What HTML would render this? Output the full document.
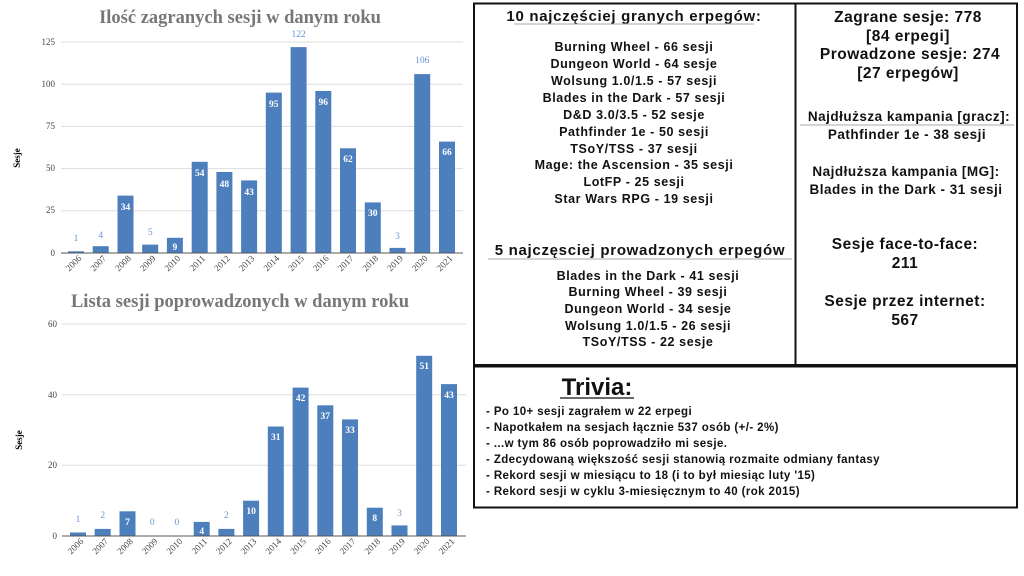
<!DOCTYPE html>
<html><head><meta charset="utf-8"><style>
html,body{margin:0;padding:0;background:#fff;}
svg{display:block;}
.t{font-family:"Liberation Serif",serif;font-weight:bold;fill:#777;font-size:18.5px;text-anchor:middle;}
.ax{font-family:"Liberation Serif",serif;font-size:9px;fill:#444;text-anchor:end;}
.yr{font-family:"Liberation Serif",serif;font-size:9px;fill:#444;text-anchor:end;}
.in{font-family:"Liberation Serif",serif;font-size:9.5px;fill:#fff;font-weight:bold;text-anchor:middle;}
.out{font-family:"Liberation Serif",serif;font-size:9.5px;fill:#6a95d4;text-anchor:middle;}
.yl{font-family:"Liberation Serif",serif;font-size:9px;font-weight:bold;fill:#000;text-anchor:middle;}
.g{stroke:#ddd;stroke-width:1;}
.b{fill:#4e7fbd;}
.p{font-family:"Liberation Sans",sans-serif;font-weight:bold;fill:#111;text-anchor:middle;font-size:12.5px;letter-spacing:0.6px;}
.h{font-family:"Liberation Sans",sans-serif;font-weight:bold;fill:#111;text-anchor:middle;font-size:15px;letter-spacing:0.7px;}
.r{font-family:"Liberation Sans",sans-serif;font-weight:bold;fill:#111;text-anchor:middle;font-size:15.5px;letter-spacing:0.5px;}
.r2{font-family:"Liberation Sans",sans-serif;font-weight:bold;fill:#111;text-anchor:middle;font-size:13.5px;letter-spacing:0.5px;}
.tv{font-family:"Liberation Sans",sans-serif;font-weight:bold;fill:#111;font-size:11.5px;letter-spacing:0.4px;}
</style></head><body>
<svg width="1024" height="576" viewBox="0 0 1024 576" xmlns="http://www.w3.org/2000/svg">
<text class="t" x="240" y="23">Ilość zagranych sesji w danym roku</text>
<line class="g" x1="61" x2="463" y1="42" y2="42"/>
<line class="g" x1="61" x2="463" y1="84.2" y2="84.2"/>
<line class="g" x1="61" x2="463" y1="126.4" y2="126.4"/>
<line class="g" x1="61" x2="463" y1="168.6" y2="168.6"/>
<line class="g" x1="61" x2="463" y1="210.8" y2="210.8"/>
<text class="ax" x="55" y="45">125</text>
<text class="ax" x="55" y="87">100</text>
<text class="ax" x="55" y="129">75</text>
<text class="ax" x="55" y="171">50</text>
<text class="ax" x="55" y="213">25</text>
<text class="ax" x="55" y="256">0</text>
<text class="yl" transform="translate(20,158) rotate(-90)">Sesje</text>
<rect class="b" x="68" y="251.3" width="16" height="1.7"/>
<rect class="b" x="92.7" y="246.2" width="16" height="6.8"/>
<rect class="b" x="117.5" y="195.6" width="16" height="57.4"/>
<rect class="b" x="142.2" y="244.6" width="16" height="8.4"/>
<rect class="b" x="166.9" y="237.8" width="16" height="15.2"/>
<rect class="b" x="191.7" y="161.8" width="16" height="91.2"/>
<rect class="b" x="216.4" y="172" width="16" height="81"/>
<rect class="b" x="241.1" y="180.4" width="16" height="72.6"/>
<rect class="b" x="265.8" y="92.6" width="16" height="160.4"/>
<rect class="b" x="290.6" y="47.1" width="16" height="205.9"/>
<rect class="b" x="315.3" y="91" width="16" height="162"/>
<rect class="b" x="340" y="148.3" width="16" height="104.7"/>
<rect class="b" x="364.8" y="202.4" width="16" height="50.6"/>
<rect class="b" x="389.5" y="247.9" width="16" height="5.1"/>
<rect class="b" x="414.2" y="74.1" width="16" height="178.9"/>
<rect class="b" x="439" y="141.6" width="16" height="111.4"/>
<line x1="61" x2="463" y1="253" y2="253" stroke="#555" stroke-width="1"/>
<text class="out" x="76" y="241">1</text>
<text class="out" x="100.7" y="238">4</text>
<text class="in" x="125.5" y="210">34</text>
<text class="out" x="150.2" y="235">5</text>
<text class="in" x="174.9" y="250">9</text>
<text class="in" x="199.7" y="176">54</text>
<text class="in" x="224.4" y="187">48</text>
<text class="in" x="249.1" y="195">43</text>
<text class="in" x="273.8" y="107">95</text>
<text class="out" x="298.6" y="37">122</text>
<text class="in" x="323.3" y="105">96</text>
<text class="in" x="348" y="162">62</text>
<text class="in" x="372.8" y="216">30</text>
<text class="out" x="397.5" y="239">3</text>
<text class="out" x="422.2" y="63">106</text>
<text class="in" x="447" y="155">66</text>
<g class="yr">
<text transform="translate(82,259) rotate(-45)">2006</text>
<text transform="translate(106.7,259) rotate(-45)">2007</text>
<text transform="translate(131.5,259) rotate(-45)">2008</text>
<text transform="translate(156.2,259) rotate(-45)">2009</text>
<text transform="translate(180.9,259) rotate(-45)">2010</text>
<text transform="translate(205.7,259) rotate(-45)">2011</text>
<text transform="translate(230.4,259) rotate(-45)">2012</text>
<text transform="translate(255.1,259) rotate(-45)">2013</text>
<text transform="translate(279.8,259) rotate(-45)">2014</text>
<text transform="translate(304.6,259) rotate(-45)">2015</text>
<text transform="translate(329.3,259) rotate(-45)">2016</text>
<text transform="translate(354,259) rotate(-45)">2017</text>
<text transform="translate(378.8,259) rotate(-45)">2018</text>
<text transform="translate(403.5,259) rotate(-45)">2019</text>
<text transform="translate(428.2,259) rotate(-45)">2020</text>
<text transform="translate(453,259) rotate(-45)">2021</text>
</g>
<text class="t" x="240" y="307">Lista sesji poprowadzonych w danym roku</text>
<line class="g" x1="62" x2="466" y1="324" y2="324"/>
<line class="g" x1="62" x2="466" y1="394.7" y2="394.7"/>
<line class="g" x1="62" x2="466" y1="465.3" y2="465.3"/>
<text class="ax" x="57" y="327">60</text>
<text class="ax" x="57" y="398">40</text>
<text class="ax" x="57" y="468">20</text>
<text class="ax" x="57" y="539">0</text>
<text class="yl" transform="translate(22,440) rotate(-90)">Sesje</text>
<rect class="b" x="70" y="532.5" width="16" height="3.5"/>
<rect class="b" x="94.7" y="528.9" width="16" height="7.1"/>
<rect class="b" x="119.5" y="511.3" width="16" height="24.7"/>
<rect class="b" x="193.7" y="521.9" width="16" height="14.1"/>
<rect class="b" x="218.4" y="528.9" width="16" height="7.1"/>
<rect class="b" x="243.1" y="500.7" width="16" height="35.3"/>
<rect class="b" x="267.8" y="426.5" width="16" height="109.5"/>
<rect class="b" x="292.6" y="387.6" width="16" height="148.4"/>
<rect class="b" x="317.3" y="405.3" width="16" height="130.7"/>
<rect class="b" x="342" y="419.4" width="16" height="116.6"/>
<rect class="b" x="366.8" y="507.7" width="16" height="28.3"/>
<rect class="b" x="391.5" y="525.4" width="16" height="10.6"/>
<rect class="b" x="416.2" y="355.8" width="16" height="180.2"/>
<rect class="b" x="441" y="384.1" width="16" height="151.9"/>
<line x1="62" x2="466" y1="536" y2="536" stroke="#555" stroke-width="1"/>
<text class="out" x="78" y="522">1</text>
<text class="out" x="102.7" y="518">2</text>
<text class="in" x="127.5" y="525">7</text>
<text class="out" x="152.2" y="525">0</text>
<text class="out" x="176.9" y="525">0</text>
<text class="in" x="201.7" y="534">4</text>
<text class="out" x="226.4" y="518">2</text>
<text class="in" x="251.1" y="514">10</text>
<text class="in" x="275.8" y="440">31</text>
<text class="in" x="300.6" y="401">42</text>
<text class="in" x="325.3" y="419">37</text>
<text class="in" x="350" y="433">33</text>
<text class="in" x="374.8" y="521">8</text>
<text class="out" x="399.5" y="516">3</text>
<text class="in" x="424.2" y="369">51</text>
<text class="in" x="449" y="398">43</text>
<g class="yr">
<text transform="translate(84,542) rotate(-45)">2006</text>
<text transform="translate(108.7,542) rotate(-45)">2007</text>
<text transform="translate(133.5,542) rotate(-45)">2008</text>
<text transform="translate(158.2,542) rotate(-45)">2009</text>
<text transform="translate(182.9,542) rotate(-45)">2010</text>
<text transform="translate(207.7,542) rotate(-45)">2011</text>
<text transform="translate(232.4,542) rotate(-45)">2012</text>
<text transform="translate(257.1,542) rotate(-45)">2013</text>
<text transform="translate(281.8,542) rotate(-45)">2014</text>
<text transform="translate(306.6,542) rotate(-45)">2015</text>
<text transform="translate(331.3,542) rotate(-45)">2016</text>
<text transform="translate(356,542) rotate(-45)">2017</text>
<text transform="translate(380.8,542) rotate(-45)">2018</text>
<text transform="translate(405.5,542) rotate(-45)">2019</text>
<text transform="translate(430.2,542) rotate(-45)">2020</text>
<text transform="translate(455,542) rotate(-45)">2021</text>
</g>
<rect x="474" y="3.5" width="543" height="361.5" fill="none" stroke="#111" stroke-width="2"/>
<line x1="795.5" x2="795.5" y1="3.5" y2="365" stroke="#111" stroke-width="2"/>
<rect x="474" y="366.5" width="543" height="141" fill="none" stroke="#111" stroke-width="2"/>
<text class="h" x="634" y="21">10 najczęściej granych erpegów:</text>
<line x1="514" x2="754" y1="24" y2="24" stroke="#aaa" stroke-width="1"/>
<text class="p" x="634" y="51">Burning Wheel - 66 sesji</text>
<text class="p" x="634" y="68">Dungeon World - 64 sesje</text>
<text class="p" x="634" y="85">Wolsung 1.0/1.5 - 57 sesji</text>
<text class="p" x="634" y="102">Blades in the Dark - 57 sesji</text>
<text class="p" x="634" y="119">D&amp;D 3.0/3.5 - 52 sesje</text>
<text class="p" x="634" y="136">Pathfinder 1e - 50 sesji</text>
<text class="p" x="634" y="153">TSoY/TSS - 37 sesji</text>
<text class="p" x="634" y="169">Mage: the Ascension - 35 sesji</text>
<text class="p" x="634" y="186">LotFP - 25 sesji</text>
<text class="p" x="634" y="203">Star Wars RPG - 19 sesji</text>
<text class="h" x="640" y="255">5 najczęsciej prowadzonych erpegów</text>
<line x1="488" x2="792" y1="259" y2="259" stroke="#aaa" stroke-width="1"/>
<text class="p" x="648" y="280">Blades in the Dark - 41 sesji</text>
<text class="p" x="648" y="296">Burning Wheel - 39 sesji</text>
<text class="p" x="648" y="313">Dungeon World - 34 sesje</text>
<text class="p" x="648" y="330">Wolsung 1.0/1.5 - 26 sesji</text>
<text class="p" x="648" y="346">TSoY/TSS  - 22 sesje</text>
<text class="r" x="908" y="22">Zagrane sesje: 778</text>
<text class="r" x="908" y="41">[84 erpegi]</text>
<text class="r" x="910" y="59">Prowadzone sesje: 274</text>
<text class="r" x="908" y="78">[27 erpegów]</text>
<text class="r2" x="909" y="121">Najdłuższa kampania [gracz]:</text>
<line x1="800" x2="1014" y1="125" y2="125" stroke="#aaa" stroke-width="1"/>
<text class="r2" x="907" y="139">Pathfinder 1e - 38 sesji</text>
<text class="r2" x="906" y="176">Najdłuższa kampania [MG]:</text>
<text class="r2" x="906" y="194">Blades in the Dark - 31 sesji</text>
<text class="r" x="905" y="249">Sesje face-to-face:</text>
<text class="r" x="905" y="268">211</text>
<text class="r" x="905" y="306">Sesje przez internet:</text>
<text class="r" x="905" y="325">567</text>
<text x="597" y="395" font-family="Liberation Sans,sans-serif" font-weight="bold" font-size="24" fill="#111" text-anchor="middle">Trivia:</text>
<line x1="560" x2="634" y1="398" y2="398" stroke="#111" stroke-width="1.2"/>
<text class="tv" x="486" y="415">- Po 10+ sesji zagrałem w 22 erpegi</text>
<text class="tv" x="486" y="431">- Napotkałem na sesjach łącznie 537 osób (+/- 2%)</text>
<text class="tv" x="486" y="447">- ...w tym 86 osób poprowadziło mi sesje.</text>
<text class="tv" x="486" y="463">- Zdecydowaną większość sesji stanowią rozmaite odmiany fantasy</text>
<text class="tv" x="486" y="479">- Rekord sesji w miesiącu to 18 (i to był miesiąc luty '15)</text>
<text class="tv" x="486" y="495">- Rekord sesji w cyklu 3-miesięcznym to 40 (rok 2015)</text>
</svg>
</body></html>
